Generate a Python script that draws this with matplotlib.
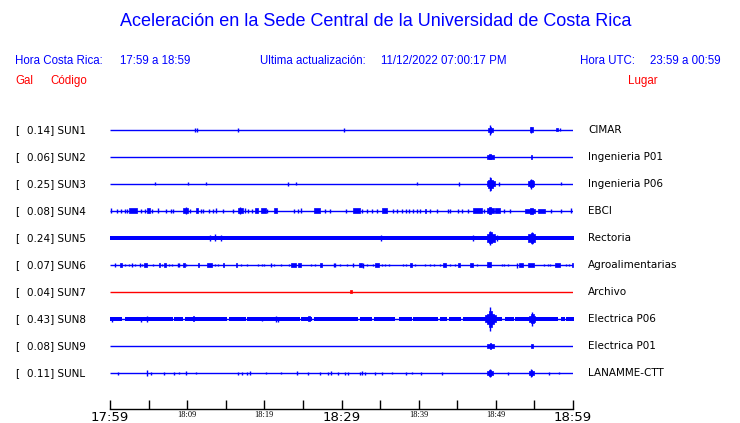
import matplotlib
matplotlib.use("Agg")
import matplotlib.pyplot as plt
import matplotlib.transforms as mtransforms

# station list (top to bottom)
stations = ["SUN1", "SUN2", "SUN3", "SUN4", "SUN5", "SUN6", "SUN7", "SUN8", "SUN9", "SUNL"]
gals = [0.14, 0.06, 0.25, 0.08, 0.24, 0.07, 0.04, 0.43, 0.08, 0.11]
places = ["CIMAR", "Ingenieria P01", "Ingenieria P06", "EBCI", "Rectoria",
          "Agroalimentarias", "Archivo", "Electrica P06", "Electrica P01", "LANAMME-CTT"]
offline = ["SUN7"]

tick_minutes = list(range(0, 61, 5))
tick_labels = ["17:59", "", "18:09", "", "18:19", "", "18:29", "", "18:39", "", "18:49", "", "18:59"]
major_labels = ["17:59", "18:29", "18:59"]

# bursts: (start min, end min, half amplitude)
bursts = {
    "SUN1": [(11.0, 11.0, 2), (11.3, 11.3, 2), (16.6, 16.6, 2), (30.3, 30.3, 2),
             (49.0, 49.65, 2), (49.2, 49.4, 3), (49.3, 49.3, 5),
             (54.4, 54.8, 2.5), (54.6, 54.6, 3), (57.8, 58.1, 1.5), (58.3, 58.3, 1.5)],
    "SUN2": [(48.9, 49.7, 1.8), (49.1, 49.4, 2.5), (54.5, 54.75, 1.8)],
    "SUN3": [(5.8, 5.8, 1.5), (10.1, 10.1, 1.5), (12.4, 12.4, 1.5), (23.1, 23.1, 2),
             (24.1, 24.1, 1.5), (39.8, 39.8, 1.5), (45.2, 45.2, 2), (50.4, 50.4, 2),
             (58.4, 58.4, 1.5),
             (48.8, 49.9, 2.5), (49.0, 49.6, 4), (49.2, 49.4, 6), (49.3, 49.3, 7),
             (54.2, 55.0, 2.5), (54.4, 54.8, 3.5), (54.6, 54.6, 5)],
    "SUN4": [(0.1, 0.1, 2.5), (0.9, 0.9, 2), (1.4, 1.4, 2), (1.9, 1.9, 2), (2.2, 2.2, 2),
             (2.4, 3.5, 2.5), (4.0, 4.0, 2), (4.5, 4.5, 2), (4.8, 5.2, 2.5), (5.4, 5.4, 2),
             (6.2, 6.2, 2.5), (7.3, 7.3, 2), (7.9, 7.9, 2), (8.2, 8.2, 2), (9.4, 10.1, 2.5),
             (9.8, 9.8, 3.5), (10.4, 10.4, 2), (11.1, 11.4, 2.5), (11.8, 11.8, 2),
             (12.0, 12.0, 2), (12.8, 12.8, 2), (13.4, 13.4, 2), (13.7, 13.7, 2.5),
             (14.6, 14.6, 2), (16.0, 16.0, 2), (16.6, 17.3, 2.5), (16.9, 16.9, 3.5),
             (17.5, 17.5, 2.5), (17.9, 17.9, 2), (18.4, 18.4, 2), (18.8, 19.2, 2.5),
             (19.6, 20.2, 2.5), (20.4, 20.4, 2), (21.2, 21.6, 2.5), (23.9, 23.9, 2),
             (24.3, 24.3, 2), (24.8, 24.8, 2.5), (26.5, 27.2, 2.5), (27.9, 27.9, 2),
             (28.5, 28.5, 2), (30.6, 30.6, 2), (31.5, 32.4, 2.5), (32.7, 32.7, 2),
             (33.3, 33.3, 2), (34.0, 34.0, 2), (34.6, 34.6, 2), (35.2, 35.9, 2.5),
             (36.7, 36.7, 2), (37.2, 37.2, 2), (37.9, 37.9, 2), (38.4, 38.4, 2),
             (38.8, 38.8, 2), (39.3, 39.3, 2), (39.8, 39.8, 2), (40.2, 40.2, 2),
             (40.8, 41.0, 2), (41.5, 41.5, 2), (42.4, 42.4, 2), (43.8, 43.8, 2),
             (44.1, 44.1, 2), (45.1, 45.1, 2), (45.6, 45.6, 2), (46.4, 46.4, 2),
             (47.1, 48.2, 2.5), (48.5, 48.5, 2), (48.8, 49.7, 2.5), (49.1, 49.4, 3.5),
             (49.9, 50.5, 2.5), (51.0, 51.0, 2), (51.8, 51.8, 2), (53.8, 55.1, 2),
             (54.4, 54.8, 3), (55.5, 56.4, 2), (57.2, 57.2, 2), (58.5, 58.5, 2),
             (59.8, 59.8, 2.5)],
    "SUN5": [(13.0, 13.0, 3), (13.6, 13.6, 3.5), (14.4, 14.4, 3), (35.1, 35.1, 3),
             (47.0, 47.0, 3), (50.2, 50.2, 3),
             (48.8, 49.9, 4), (49.1, 49.5, 5.5), (49.3, 49.3, 7),
             (54.2, 55.1, 4), (54.5, 54.8, 5), (54.7, 54.7, 6)],
    "SUN6": [(0.6, 0.6, 2), (1.3, 1.5, 2), (2.0, 2.0, 1.5), (2.4, 2.4, 1.5), (2.8, 2.8, 2),
             (3.3, 3.3, 1.5), (3.9, 3.9, 2), (4.2, 4.2, 1.5), (4.4, 4.8, 2), (5.6, 5.6, 1.5),
             (6.3, 6.5, 2), (6.7, 6.7, 1.5), (7.0, 7.2, 2), (7.6, 7.6, 1.5), (8.0, 8.0, 1.5),
             (8.8, 8.8, 2), (8.9, 8.9, 2), (9.5, 9.7, 2), (9.9, 9.9, 1.5), (11.4, 11.5, 2),
             (12.6, 13.2, 2), (13.6, 13.6, 1.5), (14.0, 14.0, 1.5), (14.7, 14.8, 2),
             (16.3, 16.4, 2), (17.0, 17.0, 1.5), (17.8, 17.8, 1), (19.2, 19.2, 1.5),
             (19.7, 19.7, 1.5), (19.9, 19.9, 1.5), (20.8, 20.8, 2), (21.3, 21.3, 1.5),
             (22.2, 22.2, 1), (23.2, 23.2, 1.5), (23.5, 24.1, 2), (24.4, 24.8, 2),
             (26.0, 26.0, 1.5), (26.6, 26.6, 1.5), (27.2, 27.5, 2), (29.0, 29.0, 2),
             (29.2, 29.2, 2), (29.8, 29.8, 1.5), (30.7, 30.7, 1.5), (31.5, 31.5, 2),
             (32.3, 32.6, 2), (32.8, 32.8, 2.5), (33.3, 33.3, 1.5), (34.1, 34.1, 1.5),
             (34.3, 34.8, 2), (35.3, 35.3, 1.5), (35.6, 35.6, 1.5), (36.1, 36.1, 1.5),
             (38.0, 38.0, 1.5), (38.4, 38.4, 1.5), (38.9, 39.1, 2), (39.5, 39.5, 1.5),
             (40.8, 40.8, 1.5), (41.5, 41.5, 1.5), (42.0, 42.0, 1.5), (42.7, 42.7, 1.5),
             (43.2, 43.5, 2), (44.1, 44.1, 1.5), (44.7, 44.7, 1.5), (45.1, 45.4, 2),
             (46.7, 47.1, 2), (47.5, 47.5, 1.5), (48.8, 49.4, 2.5), (50.8, 50.8, 1.5),
             (51.1, 51.1, 1.5), (51.6, 51.6, 1.5), (52.8, 52.8, 2.5), (53.0, 53.5, 2),
             (54.2, 54.9, 2), (56.2, 56.2, 1.5), (56.7, 56.7, 1.5), (57.0, 57.0, 1.5),
             (57.7, 58.3, 2), (59.1, 59.1, 1.5), (59.5, 59.5, 1.5), (59.9, 60.0, 2)],
    "SUN7": [(31.1, 31.4, 1.5)],
    "SUN8": [(0.3, 0.3, 2.5), (4.0, 4.0, 2.5), (4.8, 4.8, 3), (10.7, 10.9, 2.5),
             (19.7, 19.7, 2), (21.5, 21.5, 3), (21.8, 21.8, 2.5), (25.7, 25.9, 2.5),
             (48.6, 50.0, 3.5), (48.9, 49.7, 5), (49.1, 49.5, 8), (49.3, 49.3, 12),
             (54.3, 55.1, 3), (54.5, 54.9, 4.5), (54.7, 54.7, 7)],
    "SUN9": [(48.9, 49.7, 2), (49.2, 49.4, 2.5), (54.5, 54.8, 1.8)],
    "SUNL": [(1.1, 1.1, 1.5), (4.8, 4.8, 2.5), (5.3, 5.3, 1.5), (7.0, 7.0, 1.5),
             (8.3, 8.3, 1.5), (8.9, 8.9, 1.2), (9.9, 9.9, 2), (11.1, 11.1, 1.2),
             (16.6, 16.6, 1.5), (17.1, 17.1, 1.5), (17.8, 17.8, 1.5), (18.2, 18.2, 2),
             (20.2, 20.2, 1), (22.2, 22.2, 1.2), (24.2, 24.2, 2), (25.7, 25.7, 1.5),
             (27.2, 27.2, 1.5), (28.3, 28.3, 1.5), (28.7, 28.7, 2), (29.5, 29.5, 1.5),
             (30.5, 30.5, 1.5), (30.9, 30.9, 1.5), (32.4, 32.4, 1.5), (32.6, 32.6, 2),
             (33.0, 33.0, 1.5), (34.3, 34.3, 1.5), (35.3, 35.3, 1.5), (36.5, 36.5, 1.2),
             (38.4, 38.4, 1.5), (39.2, 39.2, 1.2), (40.3, 40.3, 1.5), (43.0, 43.0, 1.5),
             (48.9, 49.6, 2.0), (49.1, 49.4, 2.5), (49.25, 49.25, 4), (51.6, 51.6, 1.5),
             (54.3, 55.0, 2.0), (54.5, 54.75, 2.5), (54.6, 54.6, 4), (56.9, 56.9, 1.5),
             (58.2, 58.2, 1)],
}

# continuous background noise: half amplitude and the quiet gaps
noise_level = {"SUN5": 2.0, "SUN8": 1.8}
noise_gaps = {
    "SUN5": [],
    "SUN8": [(1.5, 2.0), (8.1, 8.3), (9.5, 9.7), (15.2, 15.4), (17.6, 17.8), (24.6, 24.8),
             (26.2, 26.4), (32.2, 32.4), (34.0, 34.2), (36.9, 37.4), (39.1, 39.3),
             (42.5, 42.8), (43.7, 43.9), (45.5, 45.7), (50.8, 51.2), (52.3, 52.5),
             (58.1, 58.5), (58.9, 59.1)],
}

BLUE = "#0000ff"
RED = "#ff0000"
W, H = 740, 423
ROW_PX = 27.0

fig = plt.figure(figsize=(W / 100, H / 100), dpi=100)
ax = fig.add_axes([110 / W, 1 - 409 / H, 463 / W, 306 / H])
ax.set_xlim(0, 60)
ax.set_ylim(10 + 9 / ROW_PX, -1)

for i, st in enumerate(stations):
    c = RED if st in offline else BLUE
    ax.hlines(i, 0, 60.15, color=c, lw=1.0)
    if st in noise_level:
        a = noise_level[st] / ROW_PX
        gaps = noise_gaps[st]
        starts = [0] + [g[1] for g in gaps]
        ends = [g[0] for g in gaps] + [60.15]
        for s, e in zip(starts, ends):
            ax.fill_between([s, e], i - a, i + a, color=c, lw=0)
    for t0, t1, amp in bursts[st]:
        a = amp / ROW_PX
        if t1 > t0:
            ax.fill_between([t0, t1], i - a, i + a, facecolor=c, edgecolor=c, lw=0.5)
        else:
            ax.vlines(t0, i - a, i + a, color=c, lw=1.0)

# axis
for s in ["top", "left", "right"]:
    ax.spines[s].set_visible(False)
ax.spines["bottom"].set_linewidth(1.0)
ax.set_yticks([])
ax.set_xticks(tick_minutes)
ax.set_xticklabels(tick_labels)
ax.tick_params(axis="x", direction="in", length=6.5, width=1.0, pad=1.5)
for lab in ax.get_xticklabels():
    if lab.get_text() in major_labels:
        lab.set_fontsize(9.5)
        lab.set_family("DejaVu Sans")
    else:
        lab.set_fontsize(6)
        lab.set_family("Liberation Serif")

# row labels
tr = mtransforms.blended_transform_factory(fig.transFigure, ax.transData)
for i, st in enumerate(stations):
    ax.text(15 / W, i, "[", transform=tr, ha="left", va="center", fontsize=7.5,
            family="DejaVu Sans", clip_on=False)
    ax.text(27 / W, i, "%.2f] %s" % (gals[i], st), transform=tr, ha="left",
            va="center", fontsize=7.5, family="DejaVu Sans", clip_on=False)
    ax.text(588 / W, i, places[i], transform=tr, ha="left", va="center",
            fontsize=7.5, family="DejaVu Sans", clip_on=False)

# header
hf = "Liberation Sans"
fs = 8.3
fig.text(376 / W, 1 - 22 / H, "Aceleración en la Sede Central de la Universidad de Costa Rica",
         ha="center", va="center", fontsize=13, color=BLUE, family=hf)
fig.text(15 / W, 1 - 61 / H, "Hora Costa Rica:", ha="left", va="center", fontsize=fs, color=BLUE, family=hf)
fig.text(120 / W, 1 - 61 / H, "17:59 a 18:59", ha="left", va="center", fontsize=fs, color=BLUE, family=hf)
fig.text(260 / W, 1 - 61 / H, "Ultima actualización:", ha="left", va="center", fontsize=fs, color=BLUE, family=hf)
fig.text(381 / W, 1 - 61 / H, "11/12/2022 07:00:17 PM", ha="left", va="center", fontsize=fs, color=BLUE, family=hf)
fig.text(580 / W, 1 - 61 / H, "Hora UTC:", ha="left", va="center", fontsize=fs, color=BLUE, family=hf)
fig.text(650 / W, 1 - 61 / H, "23:59 a 00:59", ha="left", va="center", fontsize=fs, color=BLUE, family=hf)
fig.text(15 / W, 1 - 81 / H, "Gal", ha="left", va="center", fontsize=fs, color=RED, family=hf)
fig.text(50 / W, 1 - 81 / H, "Código", ha="left", va="center", fontsize=fs, color=RED, family=hf)
fig.text(628 / W, 1 - 81 / H, "Lugar", ha="left", va="center", fontsize=fs, color=RED, family=hf)

fig.savefig("out.png", dpi=100)
